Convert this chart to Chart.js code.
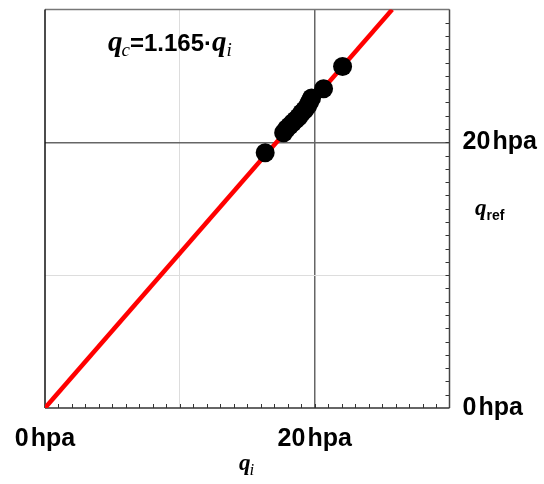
<!DOCTYPE html>
<html>
<head>
<meta charset="utf-8">
<script src="https://cdn.jsdelivr.net/npm/chart.js@4.4.1/dist/chart.umd.min.js"></script>
<style>
  html, body { margin: 0; padding: 0; background: #fff; }
</style>
</head>
<body>
<canvas id="chart" width="544" height="484"></canvas>
<script>
// Données (hpa)
const qi   = [16.33, 17.70, 17.92, 18.14, 18.37, 18.59, 18.81, 19.03, 19.25, 19.47, 19.62, 19.77, 20.66, 22.07];
const qref = [19.22, 20.72, 21.02, 21.24, 21.47, 21.69, 21.91, 22.21, 22.44, 22.74, 23.04, 23.34, 24.03, 25.71];

// Droite d'ajustement q_c = 1.165 * q_i
const fitX = [0, 25.75];
const fitY = [0, 30];

// Étiquettes des graduations
const tickValues = [0, 20];
const tickNames  = ['0\u200ahpa', '20\u200ahpa'];

const SANS = "'Liberation Sans', Arial, sans-serif";
const SERIF = "'Liberation Serif', 'Times New Roman', serif";

function tickLabel(v) {
  const i = tickValues.indexOf(v);
  return i >= 0 ? tickNames[i] : '';
}

function gridColor(ctx) {
  if (!ctx.tick) return 'rgba(0,0,0,0)';
  if (ctx.tick.value === 10) return '#dddddd';
  if (ctx.tick.value === 20) return '#666666';
  return 'rgba(0,0,0,0)';
}

function gridWidth(ctx) {
  return ctx.tick && ctx.tick.value === 20 ? 1.5 : 1;
}

// Texte composé (indices, italique)
function drawParts(ctx, x, y, parts) {
  parts.forEach(p => {
    ctx.font = p.font;
    ctx.fillText(p.t, x, y + (p.dy || 0));
    x += ctx.measureText(p.t).width + (p.dx || 0);
  });
}

function seg(ctx, x1, y1, x2, y2) {
  ctx.beginPath();
  ctx.moveTo(x1, y1);
  ctx.lineTo(x2, y2);
  ctx.stroke();
}

const framePlugin = {
  id: 'frame',
  beforeDatasetsDraw(chart) {
    const { ctx, chartArea: a, scales: { x, y } } = chart;
    ctx.save();
    // petites graduations intérieures
    ctx.strokeStyle = '#333';
    ctx.lineWidth = 1;
    for (let v = 1; v < 30; v++) {
      const px = Math.round(x.getPixelForValue(v)) + 0.5;
      seg(ctx, px, a.bottom, px, a.bottom - 4);
      const py = Math.round(y.getPixelForValue(v)) + 0.5;
      seg(ctx, a.right, py, a.right - 4, py);
    }
    // cadre
    ctx.lineWidth = 1.5;
    ctx.strokeStyle = '#777';
    seg(ctx, a.left, a.top, a.right, a.top);
    ctx.strokeStyle = '#444';
    seg(ctx, a.right, a.top, a.right, a.bottom);
    ctx.strokeStyle = '#333';
    seg(ctx, a.left, a.bottom, a.right, a.bottom);
    ctx.strokeStyle = '#111';
    seg(ctx, a.left, a.top, a.left, a.bottom);
    ctx.restore();
  },
  afterDraw(chart) {
    const ctx = chart.ctx;
    ctx.save();
    ctx.fillStyle = '#000';
    ctx.textBaseline = 'alphabetic';
    ctx.textAlign = 'left';
    // équation
    drawParts(ctx, 108, 51, [
      { t: 'q', font: `italic bold 29px ${SERIF}`, dx: -1 },
      { t: 'c', font: `italic 19px ${SERIF}`, dy: 5 },
      { t: '=1.165\u00b7', font: `bold 24px ${SANS}` },
      { t: 'q', font: `italic bold 29px ${SERIF}`, dx: 0 },
      { t: 'i', font: `italic 19px ${SERIF}`, dy: 5 },
    ]);
    // titre axe x
    drawParts(ctx, 239, 470, [
      { t: 'q', font: `italic bold 23px ${SERIF}`, dx: -1 },
      { t: 'i', font: `italic 17px ${SERIF}`, dy: 5 },
    ]);
    // titre axe y
    drawParts(ctx, 475, 215, [
      { t: 'q', font: `italic bold 23px ${SERIF}`, dx: 0 },
      { t: 'ref', font: `bold 14px ${SANS}`, dy: 5 },
    ]);
    ctx.restore();
  }
};

const tickFont = { family: SANS, size: 25, weight: 'bold' };

new Chart(document.getElementById('chart'), {
  type: 'scatter',
  data: {
    datasets: [
      {
        data: qi.map((v, i) => ({ x: v, y: qref[i] })),
        backgroundColor: '#000',
        borderWidth: 0,
        pointRadius: 9.5,
        order: 1,
      },
      {
        type: 'line',
        data: fitX.map((v, i) => ({ x: v, y: fitY[i] })),
        borderColor: '#ff0000',
        borderWidth: 4.5,
        pointRadius: 0,
        showLine: true,
        fill: false,
        order: 2,
      },
    ],
  },
  options: {
    responsive: false,
    animation: false,
    layout: { padding: { left: 45, top: 6, right: 0, bottom: 0 } },
    plugins: {
      legend: { display: false },
      tooltip: { enabled: false },
    },
    scales: {
      x: {
        type: 'linear',
        position: 'bottom',
        min: 0,
        max: 30,
        afterFit: s => { s.height = 76; s.paddingLeft = 0; s.paddingRight = 0; },
        border: { display: false },
        grid: { color: gridColor, lineWidth: gridWidth, drawTicks: false },
        ticks: {
          stepSize: 10,
          autoSkip: false,
          maxRotation: 0,
          padding: 16,
          color: '#000',
          font: tickFont,
          callback: tickLabel,
        },
      },
      y: {
        type: 'linear',
        position: 'right',
        min: 0,
        max: 30,
        afterFit: s => { s.width = 94.5; s.paddingTop = 0; s.paddingBottom = 0; },
        border: { display: false },
        grid: { color: gridColor, lineWidth: gridWidth, drawTicks: false },
        ticks: {
          stepSize: 10,
          autoSkip: false,
          padding: 13,
          color: '#000',
          font: tickFont,
          callback: tickLabel,
        },
      },
    },
  },
  plugins: [framePlugin],
});
</script>
</body>
</html>
